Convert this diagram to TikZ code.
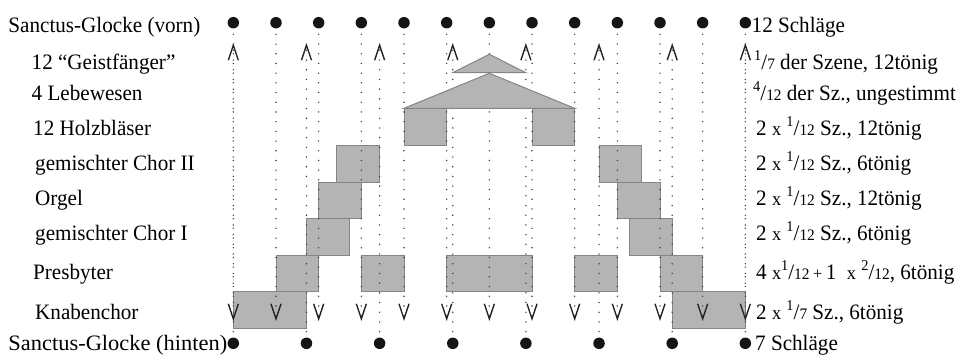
\documentclass[tikz,border=0pt]{standalone}
\usepackage{fontspec}
\usepackage{graphicx}
\setmainfont{Liberation Serif}
\usetikzlibrary{arrows.meta}
\definecolor{boxfill}{HTML}{B4B4B4}
\definecolor{boxline}{HTML}{858585}
\definecolor{dotc}{HTML}{404040}
\definecolor{bellc}{HTML}{151515}
\newcommand\fr[2]{\raisebox{0.42em}{\fontsize{15}{15}\selectfont #1}/{\fontsize{16}{16}\selectfont #2}}
\newcommand\xs{{\fontsize{19}{19}\selectfont x}}
\newcommand\ps{{\fontsize{17}{17}\selectfont +}}
\newcommand\sq[1]{\scalebox{0.96}[1]{#1}}
\begin{document}
\begin{tikzpicture}[x=1pt,y=-1pt,
  font=\fontsize{22}{24}\selectfont,
  bell/.style={circle,fill=bellc,inner sep=0pt,minimum size=11.5pt},
  dotline/.style={draw=dotc,line width=1.6pt,line cap=round,dash pattern=on 0pt off 9.7pt,dash phase=4pt},
  vtip/.style={-{Straight Barb[length=15pt,width=10pt,line width=1.4pt,color=black!85]}},
  blk/.style={fill=boxfill,draw=boxline,line width=1pt},
  lbl/.style={anchor=base west,inner sep=0pt},
]
\useasboundingbox (0,0) rectangle (963,354);

% bells and arrow end points
\foreach \k in {0,...,12} {
  \pgfmathsetmacro\xx{233.33+42.667*\k}
  \node[bell] (t\k) at (\xx,22.7) {};
  \coordinate (v\k) at (\xx,321);
}
\foreach \j in {0,...,7} {
  \pgfmathsetmacro\xx{233.33+73.143*\j}
  \node[bell] (b\j) at (\xx,343.3) {};
  \coordinate (a\j) at (\xx,43);
}

% instrument blocks
\foreach \a/\b/\c/\d in {
  404/108.3/446.7/145, 532/108.3/574.7/145,
  336.9/145/379.6/182.7, 599/145/641.7/182.7,
  318.7/182.7/361.3/218.3, 617.3/182.7/660/218.3,
  306.5/218.3/349.2/255, 629.5/218.3/672.2/255,
  276/255/318.7/291.3, 361.3/255/404/291.3, 446.7/255/532/291.3,
  574.7/255/617.3/291.3, 660/255/702.7/291.3,
  233.3/291.3/306.5/328, 672.2/291.3/745.3/328}
  \filldraw[blk] (\a,\b) rectangle (\c,\d);

% dotted connectors
\foreach \k in {0,...,12} \draw[dotline,vtip] (t\k) -- (v\k);
\foreach \j in {0,...,7} \draw[dotline,vtip] (b\j) -- (a\j);

% triangles
\filldraw[blk] (404,108.3) -- (489.3,73.3) -- (574.7,108.3) -- cycle;
\filldraw[blk] (452.7,72.7) -- (489.3,54.3) -- (525.9,72.7) -- cycle;

% left labels
\node[lbl] (l1) at (8.3,32.3) {\sq{Sanctus-Glocke (vorn)}};
\node[lbl] (l2) at (31.5,69.3) {\sq{12 “Geistfänger”}};
\node[lbl] (l3) at (31.5,100.3) {\sq{4 Lebewesen}};
\node[lbl] (l4) at (33,135.3) {\sq{12 Holzbläser}};
\node[lbl] (l5) at (35,170.3) {\sq{gemischter Chor II}};
\node[lbl] (l6) at (35,205.3) {\sq{Orgel}};
\node[lbl] (l7) at (35,240.3) {\sq{gemischter Chor I}};
\node[lbl] (l8) at (33,279.8) {\sq{Presbyter}};
\node[lbl] (l9) at (35,319.3) {\sq{Knabenchor}};
\node[lbl] (l10) at (8.3,350.6) {\scalebox{1.02}[1]{Sanctus-Glocke (hinten)}};

% right labels
\node[lbl] (r1) at (751.5,32.3) {\sq{12 Schläge}};
\node[lbl] (r2) at (754,69.3) {\sq{\fr{1}{7} der Szene, 12tönig}};
\node[lbl] (r3) at (753,100.3) {\sq{\fr{4}{12} der Sz., ungestimmt}};
\node[lbl] (r4) at (756,135.3) {\sq{2 \xs\ \fr{1}{12} Sz., 12tönig}};
\node[lbl] (r5) at (756,170.3) {\sq{2 \xs\ \fr{1}{12} Sz., 6tönig}};
\node[lbl] (r6) at (756,205.3) {\sq{2 \xs\ \fr{1}{12} Sz., 12tönig}};
\node[lbl] (r7) at (756,240.3) {\sq{2 \xs\ \fr{1}{12} Sz., 6tönig}};
\node[lbl] (r8) at (756,279.8) {\sq{4 \xs\fr{1}{12}\,\ps\,1\ \ \xs\ \fr{2}{12}, 6tönig}};
\node[lbl] (r9) at (756,319.3) {\sq{2 \xs\ \fr{1}{7} Sz., 6tönig}};
\node[lbl] (r10) at (755,350.6) {\sq{7 Schläge}};
\end{tikzpicture}
\end{document}
